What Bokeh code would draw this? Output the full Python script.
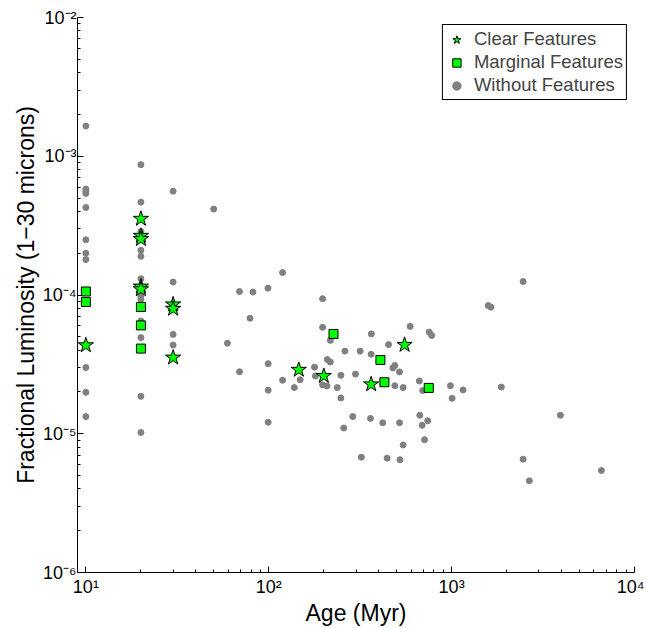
from bokeh.plotting import figure
from bokeh.models import Range1d, FixedTicker, Legend, LegendItem
from bokeh.embed import file_html
from bokeh.resources import INLINE

# ---- data ----
clear_age = [10, 20, 20, 20, 20, 20, 30, 30, 30, 146, 200, 363, 553]
clear_lum = [4.34e-5, 3.54e-4, 2.67e-4, 2.53e-4, 1.15e-4, 1.10e-4,
             8.55e-5, 7.96e-5, 3.54e-5, 2.89e-5, 2.61e-5, 2.27e-5, 4.37e-5]

marg_age = [10, 10, 20, 20, 20, 226, 408, 429, 750]
marg_lum = [1.06e-4, 8.9e-5, 8.2e-5, 6.04e-5, 4.11e-5, 5.24e-5, 3.40e-5, 2.35e-5, 2.14e-5]

none_age = [10, 10, 10, 10, 10, 10, 10, 10, 10, 10, 10,
            20, 20, 20, 20, 20, 20, 20, 20, 20, 20, 20, 20, 20,
            30, 30, 30, 30,
            50, 59.4, 69.2, 69.2, 79, 82, 99, 99.3, 99.3, 99.3,
            119, 119, 138, 148.5, 178, 180, 197, 197, 197, 208,
            209, 217, 217, 237, 248, 248, 257, 261, 288, 298,
            316, 321, 360, 363, 364, 420, 444, 452, 477, 489,
            489, 519, 519, 522, 543, 543, 593, 666, 670, 690,
            695, 711, 740, 755, 778, 985, 1006, 1155, 1585, 1640,
            1870, 2460, 2460, 2660, 3935, 6590]
none_lum = [1.65e-3, 5.8e-4, 5.6e-4, 5.4e-4, 4.27e-4, 2.5e-4, 2.0e-4, 1.8e-4, 3.0e-5, 1.99e-5, 1.33e-5,
            8.7e-4, 4.67e-4, 2.87e-4, 2.1e-4, 1.9e-4, 1.31e-4, 1.03e-4, 9.8e-5, 9.3e-5, 6.5e-5, 4.93e-5, 1.86e-5, 1.02e-5,
            5.6e-4, 1.24e-4, 5.2e-5, 4.36e-5,
            4.16e-4, 4.49e-5, 1.06e-4, 2.8e-5, 6.8e-5, 1.05e-4, 1.12e-4, 3.2e-5, 2.06e-5, 1.21e-5,
            1.45e-4, 2.43e-5, 2.15e-5, 2.45e-5, 3.02e-5, 2.61e-5, 9.4e-5, 5.85e-5, 2.25e-5, 2.21e-5,
            3.43e-5, 3.29e-5, 4.71e-5, 2.15e-5, 2.64e-5, 1.81e-5, 1.1e-5, 3.94e-5, 1.33e-5, 2.69e-5,
            3.94e-5, 6.78e-6, 1.29e-5, 3.74e-5, 5.24e-5, 1.2e-5, 6.67e-6, 4.39e-5, 2.98e-5, 3.1e-5,
            2.22e-5, 2.79e-5, 1.2e-5, 6.5e-6, 2.15e-5, 8.3e-6, 5.94e-5, 2.4e-5, 1.36e-5, 1.15e-5,
            2.05e-5, 9.06e-6, 1.24e-5, 5.4e-5, 5.1e-5, 2.22e-5, 1.8e-5, 2.07e-5, 8.4e-5, 8.17e-5,
            2.17e-5, 1.25e-4, 6.56e-6, 4.58e-6, 1.36e-5, 5.43e-6]

x_ticks = [10, 100, 1000, 10000]
x_tick_labels = ["10\u00b9", "10\u00b2", "10\u00b3", "10\u2074"]
y_ticks = [1e-6, 1e-5, 1e-4, 1e-3, 1e-2]
y_tick_labels = ["10\u207b\u2076", "10\u207b\u2075", "10\u207b\u2074", "10\u207b\u00b3", "10\u207b\u00b2"]

legend_labels = ["Clear Features", "Marginal Features", "Without Features"]

FONT = "Liberation Sans"

p = figure(width=644, height=628, x_axis_type="log", y_axis_type="log",
           x_range=Range1d(9, 10000), y_range=Range1d(1e-6, 1e-2),
           output_backend="svg", toolbar_location=None,
           min_border_left=77, min_border_right=10, min_border_top=17, min_border_bottom=54)
p.outline_line_color = None
p.grid.visible = False
p.background_fill_color = "white"
p.border_fill_color = "white"

x_minor = [m * 10 ** e for e in range(0, 4) for m in range(2, 10)]
y_minor = [m * 10.0 ** e for e in range(-6, -2) for m in range(2, 10)]
p.xaxis.ticker = FixedTicker(ticks=x_ticks, minor_ticks=x_minor)
p.yaxis.ticker = FixedTicker(ticks=y_ticks, minor_ticks=y_minor)
p.xaxis.major_label_overrides = dict(zip(x_ticks, x_tick_labels))
p.yaxis.major_label_overrides = dict(zip(y_ticks, y_tick_labels))

for ax in (p.xaxis, p.yaxis):
    ax.major_tick_in = 6
    ax.major_tick_out = 0
    ax.minor_tick_in = 3
    ax.minor_tick_out = 0
    ax.axis_line_color = "black"
    ax.major_tick_line_color = "black"
    ax.minor_tick_line_color = "black"
    ax.major_label_text_font = FONT
    ax.major_label_text_font_size = "18px"
    ax.major_label_text_color = "black"
    ax.axis_label_text_font = FONT
    ax.axis_label_text_font_size = "23px"
    ax.axis_label_text_font_style = "normal"
    ax.axis_label_text_color = "black"

p.xaxis.axis_label = "Age (Myr)"
p.yaxis.axis_label = "Fractional Luminosity (1\u221230 microns)"
p.xaxis.major_label_standoff = 4
p.xaxis.axis_label_standoff = 0
p.yaxis.major_label_standoff = 1
p.yaxis.axis_label_standoff = 1

r_none = p.scatter(none_age, none_lum, marker="circle", size=6,
                   fill_color="#808080", line_color="#808080")
r_marg = p.scatter(marg_age, marg_lum, marker="square", size=9,
                   fill_color="#00ff00", line_color="black", line_width=1)
r_clear = p.scatter(clear_age, clear_lum, marker="star", size=16,
                    fill_color="#00ff00", line_color="black", line_width=1)

legend = Legend(items=[LegendItem(label=legend_labels[0], renderers=[r_clear]),
                       LegendItem(label=legend_labels[1], renderers=[r_marg]),
                       LegendItem(label=legend_labels[2], renderers=[r_none])],
                location="top_right")
legend.margin = 7
legend.padding = 3
legend.spacing = 1
legend.glyph_width = 21
legend.glyph_height = 21
legend.label_standoff = 7
legend.label_height = 21
legend.label_text_font = FONT
legend.label_text_font_size = "18.5px"
legend.border_line_color = "black"
legend.border_line_width = 1
legend.border_line_alpha = 1
legend.background_fill_alpha = 1
p.add_layout(legend)

open("out.html", "w").write(file_html(p, INLINE))
